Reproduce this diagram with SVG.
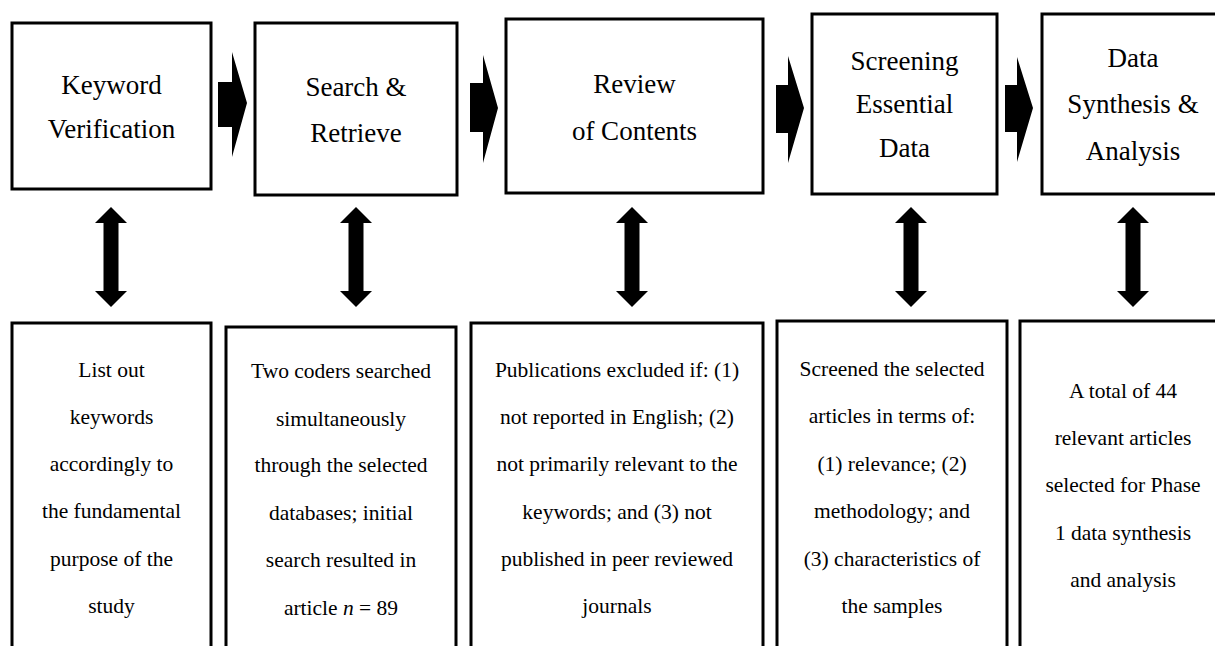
<svg xmlns="http://www.w3.org/2000/svg" width="1215" height="646" viewBox="0 0 1215 646">
<defs>
<style>
.box{fill:#fff;stroke:#000;stroke-width:3}
.ar{fill:#000}
</style>
<path id="dbl" d="M0,207 L16,223 L7.5,223 L7.5,291 L16,291 L0,307 L-16,291 L-7.5,291 L-7.5,223 L-16,223 Z"/>
</defs>
<rect width="1215" height="646" fill="#fff"/>
<g font-family="Liberation Serif, Times New Roman, serif" fill="#000" text-anchor="middle">
<g id="top1" font-size="27"><rect class="box" x="12" y="23" width="199" height="166"/><text x="111.5" y="94">Keyword</text><text x="111.5" y="138">Verification</text></g>
<g id="top2" font-size="27"><rect class="box" x="255" y="23" width="202" height="172"/><text x="356" y="96">Search &amp;</text><text x="356" y="142">Retrieve</text></g>
<g id="top3" font-size="27"><rect class="box" x="506" y="19" width="257" height="174"/><text x="634.5" y="93">Review</text><text x="634.5" y="140">of Contents</text></g>
<g id="top4" font-size="27"><rect class="box" x="812" y="14" width="185" height="180"/><text x="904.5" y="70">Screening</text><text x="904.5" y="113">Essential</text><text x="904.5" y="157">Data</text></g>
<g id="top5" font-size="27"><rect class="box" x="1042" y="14" width="190" height="180"/><text x="1133" y="67">Data</text><text x="1133" y="113">Synthesis &amp;</text><text x="1133" y="160">Analysis</text></g>
<g id="bot1" font-size="21.5"><rect class="box" x="12" y="323" width="199" height="340"/><text x="111.5" y="377">List out</text><text x="111.5" y="424">keywords</text><text x="111.5" y="471">accordingly to</text><text x="111.5" y="518">the fundamental</text><text x="111.5" y="566">purpose of the</text><text x="111.5" y="613">study</text></g>
<g id="bot2" font-size="21.5"><rect class="box" x="226" y="327" width="230" height="340"/><text x="341" y="378">Two coders searched</text><text x="341" y="426">simultaneously</text><text x="341" y="472">through the selected</text><text x="341" y="520">databases; initial</text><text x="341" y="567">search resulted in</text><text x="341" y="615">article <tspan font-style="italic">n</tspan> = 89</text></g>
<g id="bot3" font-size="21.5"><rect class="box" x="471" y="323" width="292" height="340"/><text x="617" y="377">Publications excluded if: (1)</text><text x="617" y="424">not reported in English; (2)</text><text x="617" y="471">not primarily relevant to the</text><text x="617" y="519">keywords; and (3) not</text><text x="617" y="566">published in peer reviewed</text><text x="617" y="613">journals</text></g>
<g id="bot4" font-size="21.5"><rect class="box" x="777" y="321" width="230" height="340"/><text x="892" y="376">Screened the selected</text><text x="892" y="423">articles in terms of:</text><text x="892" y="471">(1) relevance; (2)</text><text x="892" y="518">methodology; and</text><text x="892" y="566">(3) characteristics of</text><text x="892" y="613">the samples</text></g>
<g id="bot5" font-size="21.5"><rect class="box" x="1020" y="321" width="212" height="340"/><text x="1123" y="398">A total of 44</text><text x="1123" y="445">relevant articles</text><text x="1123" y="492">selected for Phase</text><text x="1123" y="540">1 data synthesis</text><text x="1123" y="587">and analysis</text></g>
</g>
<g id="connectors" class="ar">
<path d="M218,82 L232,82 L232,52 L247,103 L232,157 L232,127 L218,127 Z"/>
<path d="M470,83 L483,83 L483,55 L498,108 L483,163 L483,132 L470,132 Z"/>
<path d="M776,85 L788,85 L788,56 L804,108 L788,163 L788,133 L776,133 Z"/>
<path d="M1005,85 L1017,85 L1017,57 L1033,108 L1017,162 L1017,132 L1005,132 Z"/>
<use href="#dbl" x="111"/>
<use href="#dbl" x="356"/>
<use href="#dbl" x="632"/>
<use href="#dbl" x="911"/>
<use href="#dbl" x="1133"/>
</g>
</svg>
